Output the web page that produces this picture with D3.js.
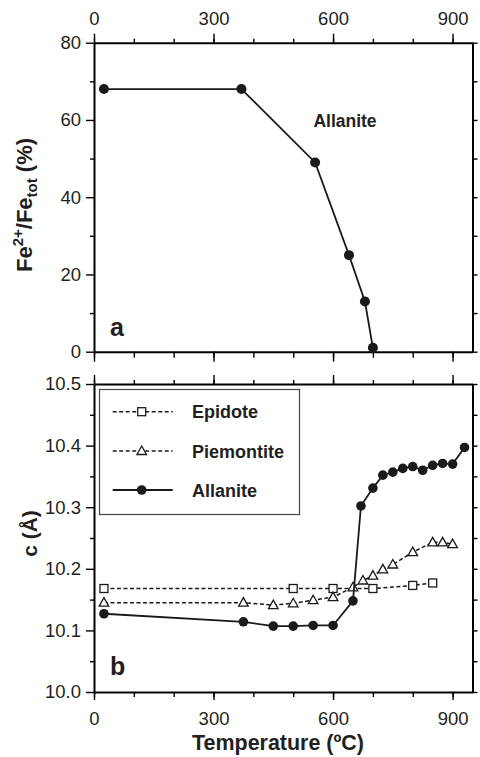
<!DOCTYPE html>
<html><head><meta charset="utf-8">
<script src="https://cdn.jsdelivr.net/npm/d3@7"></script>
<style>body{margin:0;background:#fff}svg{display:block}text{font-family:"Liberation Sans",Arial,sans-serif;fill:#231f20}</style>
</head><body><svg id="c" width="480" height="757"></svg>
<script>
// Panel a: Fe2+/Fetot vs temperature (Allanite)
const aTemp = [25, 370, 555, 640, 680, 700];
const aFe = [68, 68, 49, 25, 13, 1];
// Panel b: c lattice parameter
const epTemp = [25, 500, 600, 700, 800, 850];
const epC = [10.168, 10.168, 10.168, 10.168, 10.173, 10.177];
const pmTemp = [25, 375, 450, 500, 550, 600, 650, 675, 700, 725, 750, 800, 850, 875, 900];
const pmC = [10.145, 10.145, 10.141, 10.144, 10.149, 10.154, 10.170, 10.181, 10.189, 10.199, 10.207, 10.227, 10.243, 10.243, 10.240];
const alTemp = [25, 375, 450, 500, 550, 600, 650, 670, 700, 725, 750, 775, 800, 825, 850, 875, 900, 930];
const alC = [10.127, 10.114, 10.107, 10.107, 10.108, 10.108, 10.148, 10.302, 10.331, 10.352, 10.357, 10.363, 10.366, 10.360, 10.368, 10.371, 10.370, 10.397];
const xMajor = [0, 300, 600, 900];
const xMinor = [0, 100, 200, 300, 400, 500, 600, 700, 800, 900];
const aMajor = [0, 20, 40, 60, 80];
const aMinor = [10, 30, 50, 70];
const bMajor = [10.0, 10.1, 10.2, 10.3, 10.4, 10.5];
const bMinor = [10.05, 10.15, 10.25, 10.35, 10.45];
const legendNames = ["Epidote", "Piemontite", "Allanite"];

const svg = d3.select("#c");
const x = d3.scaleLinear().domain([0, 950]).range([94, 472.5]);
const ya = d3.scaleLinear().domain([0, 80]).range([351.7, 42.7]);
const yb = d3.scaleLinear().domain([10, 10.5]).range([692, 384]);
const TFS = 18.5;

function styleAxis(g) {
  g.selectAll("path.domain").attr("stroke", "#000").attr("stroke-width", 2);
  g.selectAll(".tick line").attr("stroke", "#000").attr("stroke-width", 1.4);
  g.selectAll(".tick text").attr("font-size", TFS).attr("fill", "#231f20")
    .style("font-family", '"Liberation Sans",Arial,sans-serif');
}
function axisPair(gen, scale, major, minor, majSize, minSize, y0, xpos, labels, fmt, pad) {
  const g1 = svg.append("g").attr("transform", `translate(${xpos||0},${y0||0})`)
    .call(gen(scale).tickValues(minor).tickSize(minSize).tickSizeOuter(0).tickFormat(""));
  styleAxis(g1);
  const g2 = svg.append("g").attr("transform", `translate(${xpos||0},${y0||0})`)
    .call(gen(scale).tickValues(major).tickSize(majSize).tickSizeOuter(0).tickPadding(pad || 3)
      .tickFormat(labels ? (fmt || d3.format("d")) : ""));
  styleAxis(g2);
  g2.select("path.domain").remove();
  return g2;
}
// Panel a axes
const ta = axisPair(d3.axisTop, x, xMajor, xMinor, 9, 4, ya(80), 0, true);
ta.selectAll(".tick text").attr("y", 25 - ya(80)).attr("dy", null);
axisPair(d3.axisBottom, x, xMajor, xMinor, 10, 6, ya(0), 0, false);
axisPair(d3.axisLeft, ya, aMajor, aMinor, 8, 4, 0, x(0), true, null, 5);
svg.append("g").attr("transform", `translate(${x(950)},0)`)
  .call(d3.axisRight(ya).tickValues(d3.range(0, 81, 10)).tickSize(5).tickSizeOuter(0).tickFormat(""))
  .call(g => styleAxis(g));
// Panel b axes
axisPair(d3.axisTop, x, xMajor, xMinor, 9, 4, yb(10.5), 0, false);
const bb = axisPair(d3.axisBottom, x, xMajor, xMinor, 8, 5, yb(10), 0, true);
bb.selectAll(".tick text").attr("y", 725 - yb(10)).attr("dy", null);
axisPair(d3.axisLeft, yb, bMajor, bMinor, 8, 4, 0, x(0), true, d3.format(".1f"), 5);
svg.append("g").attr("transform", `translate(${x(950)},0)`)
  .call(d3.axisRight(yb).tickValues(d3.range(0, 11).map(i => 10 + i * 0.05)).tickSize(5).tickSizeOuter(0).tickFormat(""))
  .call(g => styleAxis(g));

// Panel a data
const lineA = d3.line().x((d, i) => x(aTemp[i])).y(d => ya(d));
svg.append("path").datum(aFe).attr("d", lineA).attr("fill", "none").attr("stroke", "#1a1a1a").attr("stroke-width", 1.8);
svg.append("g").selectAll("circle").data(aFe).join("circle")
  .attr("cx", (d, i) => x(aTemp[i])).attr("cy", d => ya(d)).attr("r", 5).attr("fill", "#1a1a1a");
svg.append("text").attr("x", 345).attr("y", 127).attr("text-anchor", "middle")
  .attr("font-size", 17.5).attr("font-weight", "bold").text("Allanite");
svg.append("text").attr("x", 110).attr("y", 336).attr("font-size", 25).attr("font-weight", "bold").text("a");

// Panel b data
function series(tArr, cArr, dashed, marker) {
  const ln = d3.line().x((d, i) => x(tArr[i])).y(d => yb(d));
  svg.append("path").datum(cArr).attr("d", ln).attr("fill", "none").attr("stroke", "#1a1a1a")
    .attr("stroke-width", dashed ? 1.5 : 1.8).attr("stroke-dasharray", dashed ? "4,2.5" : null);
  drawMarkers(cArr.map((d, i) => [x(tArr[i]), yb(d)]), marker);
}
function drawMarkers(pts, marker) {
  const g = svg.append("g");
  pts.forEach(([px, py]) => {
    if (marker === "square") g.append("rect").attr("x", px - 4).attr("y", py - 4).attr("width", 8).attr("height", 8)
      .attr("fill", "#fff").attr("stroke", "#1a1a1a").attr("stroke-width", 1.3);
    else if (marker === "tri") g.append("path").attr("d", `M${px},${py - 5}L${px + 4.8},${py + 3.5}L${px - 4.8},${py + 3.5}Z`)
      .attr("fill", "#fff").attr("stroke", "#1a1a1a").attr("stroke-width", 1.3);
    else g.append("circle").attr("cx", px).attr("cy", py).attr("r", 4.8).attr("fill", "#1a1a1a");
  });
}
series(epTemp, epC, true, "square");
series(pmTemp, pmC, true, "tri");
series(alTemp, alC, false, "circle");
svg.append("text").attr("x", 110).attr("y", 675).attr("font-size", 25).attr("font-weight", "bold").text("b");

// Legend
const lg = svg.append("g");
lg.append("rect").attr("x", 99.5).attr("y", 389.5).attr("width", 200).attr("height", 125)
  .attr("fill", "#fff").attr("stroke", "#444").attr("stroke-width", 1.2);
const lgY = [411.7, 451, 490];
const markers = ["square", "tri", "circle"];
legendNames.forEach((n, i) => {
  lg.append("line").attr("x1", 112.7).attr("x2", 172.7).attr("y1", lgY[i]).attr("y2", lgY[i])
    .attr("stroke", "#1a1a1a").attr("stroke-width", i === 2 ? 1.8 : 1.5).attr("stroke-dasharray", i === 2 ? null : "4,2.5");
  drawMarkers([[141.7, lgY[i]]], markers[i]);
  lg.append("text").attr("x", 192).attr("y", lgY[i] + 6.5).attr("font-size", 18).attr("font-weight", "bold").text(n);
});

// Axis titles
const t1 = svg.append("text").attr("transform", "translate(32,205) rotate(-90)").attr("text-anchor", "middle")
  .attr("font-size", 22).attr("font-weight", "bold");
t1.append("tspan").text("Fe");
t1.append("tspan").attr("font-size", 15).attr("dy", -9).text("2+");
t1.append("tspan").attr("dy", 9).text("/Fe");
t1.append("tspan").attr("font-size", 15).attr("dy", 5).text("tot");
t1.append("tspan").attr("dy", -5).text(" (%)");
svg.append("text").attr("transform", "translate(37,533.5) rotate(-90)").attr("text-anchor", "middle")
  .attr("font-size", 21).attr("font-weight", "bold").text("c (Å)");
svg.append("text").attr("x", 278).attr("y", 750).attr("text-anchor", "middle")
  .attr("font-size", 22).attr("font-weight", "bold").attr("textLength", 172).attr("lengthAdjust", "spacingAndGlyphs")
  .text("Temperature (ºC)");
</script></body></html>
